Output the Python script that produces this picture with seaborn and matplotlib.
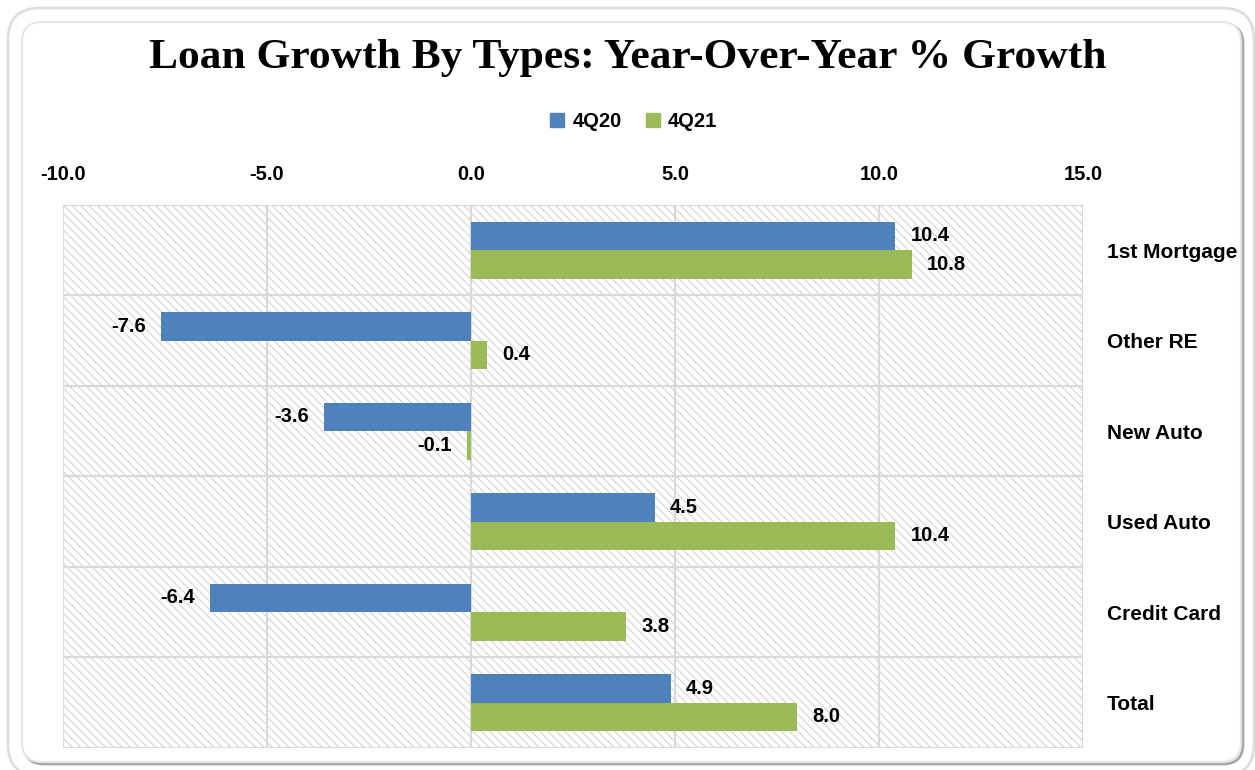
import matplotlib
matplotlib.use("Agg")
import matplotlib.pyplot as plt
from matplotlib.patches import FancyBboxPatch, Rectangle
import seaborn as sns
import pandas as pd

categories = ["1st Mortgage", "Other RE", "New Auto", "Used Auto", "Credit Card", "Total"]
growth_4q20 = [10.4, -7.6, -3.6, 4.5, -6.4, 4.9]
growth_4q21 = [10.8, 0.4, -0.1, 10.4, 3.8, 8.0]
series = ["4Q20", "4Q21"]
x_ticks = [-10.0, -5.0, 0.0, 5.0, 10.0, 15.0]

df = pd.DataFrame({
    "Category": categories * 2,
    "Series": [series[0]] * len(categories) + [series[1]] * len(categories),
    "Growth": growth_4q20 + growth_4q21,
})

sns.set_theme(style="white")
plt.rcParams["font.family"] = ["Liberation Sans", "DejaVu Sans"]
plt.rcParams["hatch.linewidth"] = 0.85
plt.rcParams["text.color"] = "black"
plt.rcParams["xtick.color"] = "black"
plt.rcParams["ytick.color"] = "black"

fig = plt.figure(figsize=(12.55, 7.7), dpi=100)
inch = fig.dpi_scale_trans

# outer rounded frame
fig.patches.append(FancyBboxPatch((0.08, -0.06), 12.46, 7.68,
                                  boxstyle="round,pad=0,rounding_size=0.32",
                                  transform=inch, facecolor="white",
                                  edgecolor="#dedede", linewidth=2.0, zorder=-30))
# inner card with a soft shadow on the lower right
fig.patches.append(FancyBboxPatch((0.24, 0.06), 12.19, 7.40,
                                  boxstyle="round,pad=0,rounding_size=0.2",
                                  transform=inch, facecolor="none",
                                  edgecolor="#a8a8a8", linewidth=2.0, zorder=-20))
fig.patches.append(FancyBboxPatch((0.22, 0.08), 12.19, 7.40,
                                  boxstyle="round,pad=0,rounding_size=0.2",
                                  transform=inch, facecolor="white",
                                  edgecolor="#e6e6e6", linewidth=1.5, zorder=-10))

ax = fig.add_axes([0.0502, 0.0286, 0.8128, 0.7052])
ax.set_zorder(5)
ax.patch.set_alpha(0)

# hatched plot area
ax.add_patch(Rectangle((0, 0), 1, 1, transform=ax.transAxes, facecolor="white",
                       edgecolor="#d6d6d6", linewidth=0, hatch="\\\\\\\\", zorder=0))

palette = {"4Q20": "#4f81bd", "4Q21": "#9bbb59"}
sns.barplot(data=df, y="Category", x="Growth", hue="Series", order=categories,
            hue_order=series, palette=palette, orient="h", width=0.63, gap=0,
            saturation=1, ax=ax, zorder=3, legend=False, linewidth=0)

ax.set_xlim(-10, 15)
ax.set_ylim(len(categories) - 0.5, -0.5)
ax.set_xticks(x_ticks)
ax.set_xticklabels([f"{v:.1f}" for v in x_ticks], fontsize=14.5, fontweight="bold")
ax.xaxis.tick_top()
ax.tick_params(axis="x", length=0, pad=15)
ax.yaxis.tick_right()
ax.tick_params(axis="y", length=0, pad=17)
for lbl in ax.get_yticklabels():
    lbl.set_fontsize(15)
    lbl.set_fontweight("bold")
    lbl.set_horizontalalignment("left")
ax.set_xlabel("")
ax.set_ylabel("")

# grid: vertical at ticks, horizontal between categories
for v in x_ticks:
    ax.axvline(v, color="#d9d9d9", linewidth=1.6, zorder=1)
for i in range(len(categories) + 1):
    ax.axhline(i - 0.5, color="#d9d9d9", linewidth=1.6, zorder=1)
for s in ax.spines.values():
    s.set_visible(False)

for cont in ax.containers:
    ax.bar_label(cont, fmt="%.1f", padding=11, fontsize=14.5, fontweight="bold",
                 color="black")

fig.text(0.5, 0.925, "Loan Growth By Types: Year-Over-Year % Growth",
         ha="center", va="center", fontsize=31.3, fontweight="bold", color="black",
         family=["Liberation Serif", "DejaVu Serif"])

handles = [Rectangle((0, 0), 1, 1, color=palette[s]) for s in series]
fig.legend(handles, series, loc="center", bbox_to_anchor=(0.505, 0.842), ncol=2,
           frameon=False, prop={"weight": "bold", "size": 14.5}, handlelength=0.7,
           handleheight=0.7, handletextpad=0.4, columnspacing=1.2)

fig.savefig("out.png", dpi=100)
